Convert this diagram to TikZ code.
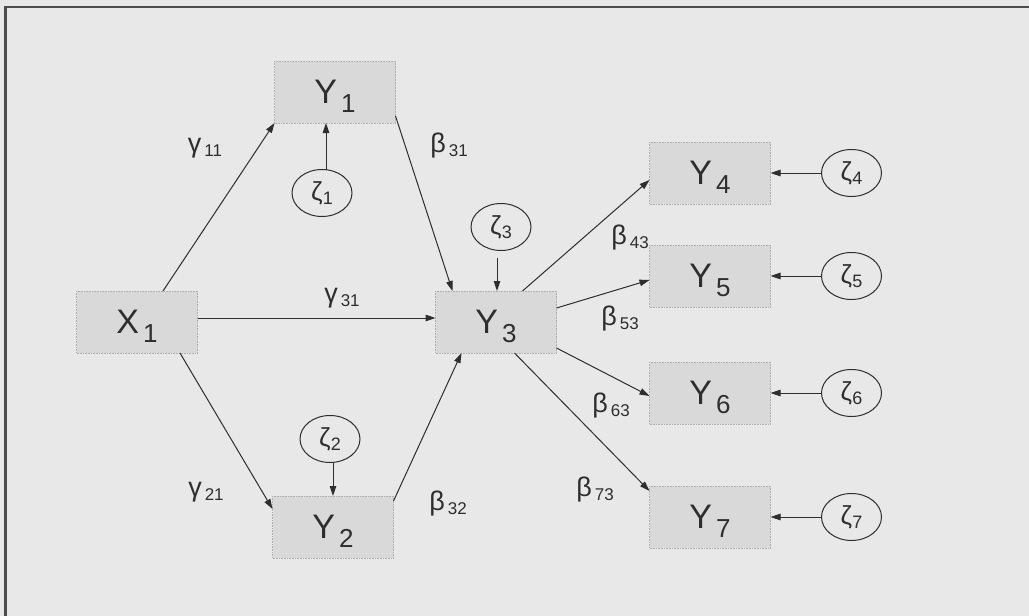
\documentclass[tikz,border=0pt]{standalone}
\usepackage{fontspec}
\setmainfont{Liberation Sans}
\usetikzlibrary{arrows.meta,positioning,calc,shapes.geometric}
\definecolor{pathbg}{HTML}{E8E8E8}
\definecolor{pathbox}{HTML}{D9D9D9}
\definecolor{pathline}{HTML}{2E2E2E}
\definecolor{pathedge}{HTML}{B0B0B0}

\newcommand{\varlab}[2]{#1\kern4pt\raisebox{-9pt}[0pt][0pt]{\fontsize{26}{26}\selectfont #2}}
\newcommand{\errlab}[1]{ζ\kern0.5pt\raisebox{-4pt}{\fontsize{18}{18}\selectfont #1}}
\newcommand{\pathlab}[2]{#1\kern3pt\raisebox{-4pt}{\fontsize{17}{17}\selectfont #2}}

\begin{document}
\begin{tikzpicture}[
  x=1pt, y=-1pt,
  node distance=40pt,
  var/.style={draw=pathedge, densely dotted, line width=0.6pt, fill=pathbox,
              minimum width=121pt, minimum height=62pt, inner sep=0pt, outer sep=0pt,
              font=\fontsize{34}{34}\selectfont, text=pathline},
  err/.style={ellipse, draw=pathline, line width=1pt, minimum width=60pt,
              minimum height=47pt, inner sep=0pt, outer sep=0pt,
              font=\fontsize{26}{26}\selectfont, text=pathline},
  coef/.style={inner sep=0pt, font=\fontsize{27}{27}\selectfont, text=pathline},
  arrow/.style={-{Triangle[length=10pt,width=6.5pt]}, pathline, line width=1pt},
]

  %% ── Fondo y marco ──
  \fill[pathbg] (0,0) rectangle (1029,616);
  \useasboundingbox (0,0) rectangle (1029,616);
  \draw[pathline!85, line width=2.5pt] (5.5,616) -- (5.5,7) -- (1029,7);

  %% ── Variables ──
  \node[var] (x1) at (137,322) {\varlab{X}{1}};
  \node[var, right=238pt of x1] (y3) {\varlab{Y}{3}};
  \node[var] (y1) at (335,92) {\varlab{Y}{1}};
  \node[var] (y2) at (333,527) {\varlab{Y}{2}};
  \node[var] (y4) at (710,173) {\varlab{Y}{4}};
  \node[var, below=41pt of y4] (y5) {\varlab{Y}{5}};
  \node[var, below=55pt of y5] (y6) {\varlab{Y}{6}};
  \node[var, below=62pt of y6] (y7) {\varlab{Y}{7}};

  %% ── Perturbaciones ──
  \node[err] (z1) at (322,193) {\errlab{1}};
  \node[err] (z2) at (330,439) {\errlab{2}};
  \node[err] (z3) at (501,227) {\errlab{3}};
  \node[err, right=51pt of y4] (z4) {\errlab{4}};
  \node[err, right=51pt of y5] (z5) {\errlab{5}};
  \node[err, right=51pt of y6] (z6) {\errlab{6}};
  \node[err, right=51pt of y7] (z7) {\errlab{7}};

  %% ── Efectos ──
  \draw[arrow] ([xshift=26pt]x1.north) -- (y1.south west);
  \draw[arrow] ([yshift=4pt]x1.east) -- ([yshift=4pt]y3.west);
  \draw[arrow] ([xshift=43pt]x1.south) -- ([yshift=-13pt]y2.north west);
  \draw[arrow] ([yshift=7pt]y1.south east) -- ([xshift=17pt]y3.north west);
  \draw[arrow] ([yshift=-5pt]y2.north east) -- ([xshift=26pt]y3.south west);
  \draw[arrow] ([xshift=-34pt]y3.north east) -- ([yshift=-7pt]y4.west);
  \draw[arrow] ([yshift=14pt]y3.east) -- ([yshift=-4pt]y5.west);
  \draw[arrow] ([yshift=5pt]y3.south east) -- ([yshift=-3pt]y6.west);
  \draw[arrow] ([xshift=-42pt]y3.south east) -- ([yshift=-5pt]y7.north west);

  %% ── Perturbaciones → variables ──
  \draw[arrow] ([xshift=4pt]z1.north) -- ([xshift=4pt]z1.north |- y1.south);
  \draw[arrow] ([xshift=3pt]z2.south) -- ([xshift=3pt]z2.south |- y2.north);
  \draw[arrow] ([xshift=-4pt,yshift=-7pt]z3.south) -- ([xshift=-4pt]z3.south |- y3.north);
  \foreach \k in {4,5,6,7}
    \draw[arrow] (z\k.west) -- (y\k.east);

  %% ── Coeficientes ──
  \node[coef] (g11) at (205,148) {\pathlab{γ}{11}};
  \node[coef] (b31) at (449,146) {\pathlab{β}{31}};
  \node[coef] (g31) at (342,298) {\pathlab{γ}{31}};
  \node[coef] (g21) at (206,492) {\pathlab{γ}{21}};
  \node[coef] (b32) at (448,504) {\pathlab{β}{32}};
  \node[coef] (b43) at (630,238) {\pathlab{β}{43}};
  \node[coef] (b53) at (620,319) {\pathlab{β}{53}};
  \node[coef] (b63) at (611,406) {\pathlab{β}{63}};
  \node[coef] (b73) at (595,490) {\pathlab{β}{73}};

\end{tikzpicture}
\end{document}
